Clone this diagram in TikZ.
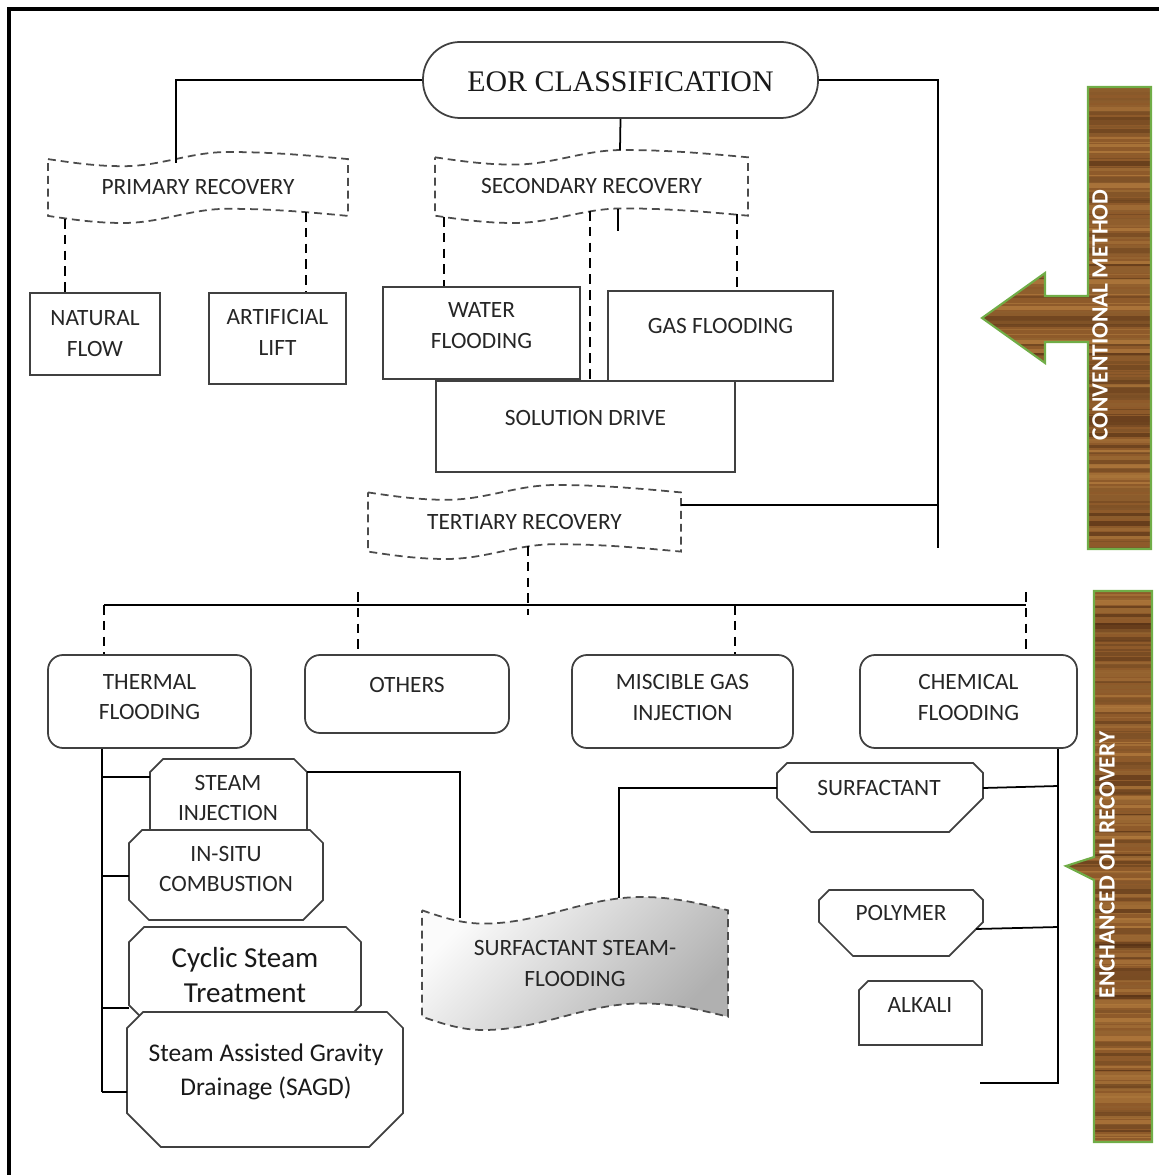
\documentclass[tikz,border=0pt]{standalone}
\usepackage{fontspec}
\setmainfont{Carlito}
\newfontfamily\eorfont{Liberation Serif}
\usetikzlibrary{fit}

\definecolor{woodbase}{RGB}{142,90,42}
\definecolor{wooddark}{RGB}{74,40,16}
\definecolor{woodlight}{RGB}{190,134,68}
\definecolor{bargreen}{RGB}{112,173,71}

\newcommand{\lblfont}{\fontsize{13.3}{17.6}\selectfont}
\newcommand{\bigfont}{\fontsize{16.5}{20.4}\selectfont}
\newcommand{\midfont}{\fontsize{14.5}{19.3}\selectfont}

% punched tape outline, dip and crest as width fractions
\newcommand{\tapedip}{0.25}
\newcommand{\tapecrest}{0.6}
\newcommand{\tapebox}[7][]{%
  \pgfmathsetmacro\tw{#5-#3}%
  \pgfmathsetmacro\td{(#6-#4)/10}%
  \pgfmathsetmacro\xa{#3+\tapedip*\tw}%
  \pgfmathsetmacro\xc{#3+\tapecrest*\tw}%
  \pgfmathsetmacro\xb{(\xa+\xc)/2}%
  \draw[tapeline,#1] (#3,#4+\td) sin (\xa,#4+2*\td) cos (\xb,#4+\td) sin (\xc,#4) cos (#5,#4+\td)
    -- (#5,#6-\td) sin (\xc,#6-2*\td) cos (\xb,#6-\td) sin (\xa,#6) cos (#3,#6-\td) -- cycle;
  \node[lbl] (#2) at ({(#3+#5)/2},{(#4+#6)/2}) {#7};}

% box with cut corners (top cut, bottom cut)
\newcommand{\chambox}[8][]{%
  \draw[shapeln,#1] (#3+#7,#4) -- (#5-#7,#4) -- (#5,#4+#7) -- (#5,#6-#8) -- (#5-#8,#6)
    -- (#3+#8,#6) -- (#3,#6-#8) -- (#3,#4+#7) -- cycle;
  \node[fit={(#3,#4)(#5,#6)}, inner sep=0pt] (#2) {};}

% wood texture stripes
\newcommand{\woodgrain}[2]{%
  \fill[woodbase] (960,#1) rectangle (1160,#1+4*#2+8);
  \pgfmathsetseed{#1}
  \foreach \k in {0,...,#2}{%
    \pgfmathsetmacro\yy{#1+4*\k+3*rnd}%
    \pgfmathtruncatemacro\mix{100*rnd^1.3}%
    \pgfmathsetmacro\lw{0.5+2.8*rnd}%
    \draw[wooddark!\mix!woodlight, line width=\lw pt, opacity=0.6] (960,\yy) -- (1160,\yy);}}

\begin{document}
\begin{tikzpicture}[x=0.02cm, y=-0.02cm,
  shapeln/.style={draw=black!75, line width=1pt, fill=white},
  plainbox/.style={shapeln, inner sep=0pt},
  roundbox/.style={shapeln, inner sep=0pt, rounded corners=0.3cm},
  lbl/.style={font=\lblfont, align=center, inner sep=0pt, text=black!85},
  link/.style={draw=black, line width=1pt},
  dashlink/.style={link, dash pattern=on 5.5pt off 3.5pt},
  tapeline/.style={draw=black!70, line width=1pt, dash pattern=on 4.5pt off 2.8pt, fill=white},
  bartxt/.style={font=\bfseries\lblfont, text=white, inner sep=0pt, rotate=90},
  barline/.style={draw=bargreen, line width=1.2pt}]

  \useasboundingbox (0,0) rectangle (1159,1175);
  \draw[line width=1.8pt] (9,1175) -- (9,9) -- (1159,9);

  % top of the tree
  \node[shapeln, inner sep=0pt, rounded corners=0.74cm, fit={(423,42)(818,118)},
    label={[font=\eorfont\fontsize{17}{20}\selectfont, text=black!90, yshift=-1pt]center:EOR CLASSIFICATION}] (eor) {};

  \tapebox{prim}{48}{152}{348}{223}{PRIMARY RECOVERY}
  \tapebox{sec}{435}{150}{748}{223}{SECONDARY RECOVERY}

  \node[plainbox, fit={(30,293)(160,375)}, label={[lbl]center:NATURAL\\FLOW}] (natural) {};
  \node[plainbox, fit={(209,293)(346,384)}, label={[lbl,yshift=3.4pt]center:ARTIFICIAL\\LIFT}] (lift) {};
  \node[plainbox, fit={(436,381)(735,472)}, label={[lbl,yshift=4.8pt]center:SOLUTION DRIVE}] (soldrive) {};
  \node[plainbox, fit={(383,287)(580,379)}, label={[lbl,yshift=4pt]center:WATER\\FLOODING}] (water) {};
  \node[plainbox, fit={(608,291)(833,381)}, label={[lbl,yshift=5.7pt]center:GAS FLOODING}] (gas) {};

  \tapebox{tert}{368}{485}{681}{559}{TERTIARY RECOVERY}

  \node[roundbox, fit={(48,655)(251,748)}, label={[lbl,yshift=2.5pt]center:THERMAL\\FLOODING}] (thermal) {};
  \node[roundbox, fit={(305,655)(509,733)}, label={[lbl,yshift=5pt]center:OTHERS}] (others) {};
  \node[roundbox, fit={(572,655)(793,748)}, label={[lbl,yshift=2.5pt]center:MISCIBLE GAS\\INJECTION}] (miscible) {};
  \node[roundbox, fit={(860,655)(1077,748)}, label={[lbl,yshift=2.5pt]center:CHEMICAL\\FLOODING}] (chem) {};

  % thermal methods
  \chambox{steam}{150}{759}{307}{850}{13}{10}
  \node[lbl] (steam-t) at (228,798) {STEAM\\INJECTION};
  \chambox{insitu}{129}{830}{323}{920}{13}{20}
  \node[lbl] (insitu-t) at (226,869) {IN-SITU\\COMBUSTION};
  \chambox{cyclic}{129}{927}{361}{1020}{15}{15}
  \node[lbl, font=\bigfont, text=black!90] (cyclic-t) at (245,975) {Cyclic Steam\\Treatment};
  \chambox{sagd}{127}{1012}{403}{1147}{16}{34}
  \node[lbl, font=\midfont, text=black!90] (sagd-t) at (266,1072) {Steam Assisted Gravity\\Drainage (SAGD)};

  % chemical methods
  \chambox{surf}{777}{763}{983}{832}{10}{34}
  \node[lbl] (surf-t) at (879,788) {SURFACTANT};
  \chambox{poly}{819}{890}{983}{956}{10}{34}
  \node[lbl] (poly-t) at (901,913) {POLYMER};
  \chambox{alk}{859}{981}{982}{1045}{9}{0}
  \node[lbl] (alk-t) at (920,1005) {ALKALI};

  \renewcommand{\tapedip}{0.2}\renewcommand{\tapecrest}{0.72}
  \tapebox[top color=gray!3, bottom color=gray!62, shading angle=45]{sst}{422}{897}{728}{1030}{SURFACTANT STEAM-\\FLOODING}

  % connectors, upper part
  \coordinate (prim-top) at (176,163);
  \draw[link] (eor.west) -| (prim-top);
  \coordinate (sec-top) at (620,150);
  \draw[link] (eor.south) -- (sec-top);
  \coordinate (sec-stub) at (618,209);
  \draw[link] (sec-stub) -- ++(0,22);
  \coordinate (right-end) at (938,548);
  \draw[link] (eor.east) -| (right-end);
  \coordinate (tert-e) at (681,505);
  \draw[link] (tert-e) -- (tert-e -| right-end);

  \coordinate (prim-b1) at (65,219);
  \coordinate (prim-b2) at (306,212);
  \coordinate (sec-b1) at (444,217);
  \coordinate (sec-b2) at (590,211);
  \coordinate (sec-b3) at (737,214);
  \draw[dashlink] (prim-b1) -- (prim-b1 |- natural.north);
  \draw[dashlink] (prim-b2) -- (prim-b2 |- lift.north);
  \draw[dashlink] (sec-b1) -- (sec-b1 |- water.north);
  \draw[dashlink] (sec-b2) -- (sec-b2 |- soldrive.north);
  \draw[dashlink] (sec-b3) -- (sec-b3 |- gas.north);

  % tertiary branches
  \coordinate (tert-b) at (528,546);
  \draw[dashlink] (tert-b) -- ++(0,69);
  \coordinate (bus-w) at (104,605);
  \coordinate (bus-e) at (1026,605);
  \draw[link] (bus-w) -- (bus-e);
  \coordinate (oth-top) at (358,592);
  \coordinate (mis-top) at (735,605);
  \coordinate (chem-top) at (1026,592);
  \draw[dashlink] (bus-w) -- (bus-w |- thermal.north);
  \draw[dashlink] (oth-top) -- (oth-top |- others.north);
  \draw[dashlink] (mis-top) -- (mis-top |- miscible.north);
  \draw[dashlink] (chem-top) -- (chem-top |- chem.north);

  % thermal spine
  \coordinate (th-end) at (102,1092);
  \coordinate (steam-w) at (150,777);
  \coordinate (insitu-w) at (129,876);
  \coordinate (cyclic-w) at (129,1008);
  \coordinate (sagd-w) at (127,1092);
  \draw[link] (th-end |- thermal.south) -- (th-end);
  \draw[link] (steam-w -| th-end) -- (steam-w);
  \draw[link] (insitu-w -| th-end) -- (insitu-w);
  \draw[link] (cyclic-w -| th-end) -- (cyclic-w);
  \draw[link] (sagd-w -| th-end) -- (sagd-w);

  % links to surfactant steam-flooding
  \coordinate (steam-e) at (307,772);
  \coordinate (sst-top1) at (460,918);
  \draw[link] (steam-e) -| (sst-top1);
  \coordinate (surf-w) at (777,788);
  \coordinate (sst-top2) at (619,898);
  \draw[link] (surf-w) -| (sst-top2);

  % chemical spine
  \coordinate (chem-end) at (1058,1083);
  \draw[link] (chem-end |- chem.south) -- (chem-end) -- ++(-78,0);
  \coordinate (surf-e) at (983,788);
  \coordinate (poly-e) at (976,929);
  \draw[link] (surf-e) -- (1058,786);
  \draw[link] (poly-e) -- (1058,927);

  % side bars
  \draw[barline, path picture={\woodgrain{85}{117}}]
    (1088,87) -- (1151,87) -- (1151,549) -- (1088,549) -- (1088,342) -- (1045,342) -- (1045,363)
    -- (982,318) -- (1045,273) -- (1045,296) -- (1088,296) -- cycle;
  \node[bartxt] (conv-txt) at (1100,315) {CONVENTIONAL METHOD};
  \draw[barline, path picture={\woodgrain{589}{140}}]
    (1094,591) -- (1152,591) -- (1152,1142) -- (1094,1142) -- (1094,880) -- (1066,866) -- (1094,857) -- cycle;
  \node[bartxt] (eor-txt) at (1107,865) {ENCHANCED OIL RECOVERY};
\end{tikzpicture}
\end{document}
